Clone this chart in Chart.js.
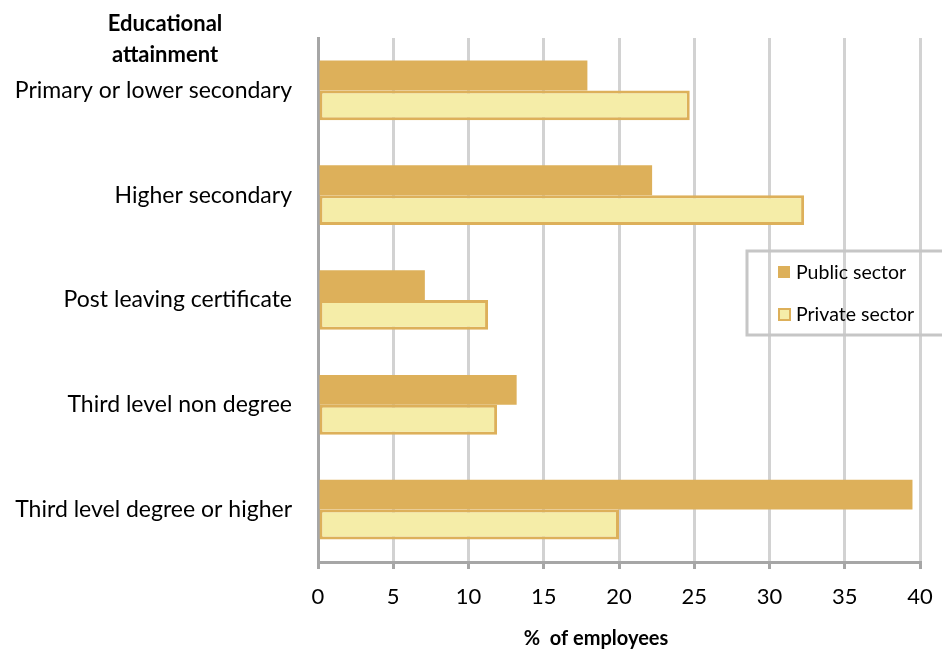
<!DOCTYPE html>
<html>
<head>
<meta charset="utf-8">
<script src="https://cdn.jsdelivr.net/npm/chart.js@4"></script>
<style>
  body { margin: 0; background: #fff; }
  #wrap { width: 942px; height: 652px; }
</style>
</head>
<body>
<div id="wrap"><canvas id="edChart"></canvas></div>
<script>
const categories = ["Primary or lower secondary", "Higher secondary", "Post leaving certificate", "Third level non degree", "Third level degree or higher"];
const publicSector = [17.9, 22.2, 7.1, 13.2, 39.5];
const privateSector = [24.7, 32.3, 11.3, 11.9, 20.0];
const xTicks = [0, 5, 10, 15, 20, 25, 30, 35, 40];

const gold = '#ddb05a';
const pale = '#f5eda8';
const fontName = 'Lato, "Open Sans", sans-serif';

// draws axis captions and the boxed legend
const extras = {
    id: 'extras',
    afterDraw(chart) {
        const ctx = chart.ctx;
        ctx.save();
        ctx.fillStyle = '#000';
        ctx.textAlign = 'center';
        ctx.textBaseline = 'middle';
        ctx.font = 'bold 22px ' + fontName;
        ctx.fillText('Educational', 165, 24);
        ctx.fillText('attainment', 165, 55);
        ctx.font = 'bold 20px ' + fontName;
        ctx.fillText('%  of employees', 596, 639);

        // legend
        ctx.strokeStyle = '#c6c6c6';
        ctx.lineWidth = 3;
        ctx.strokeRect(747, 251, 200, 84);
        ctx.textAlign = 'left';
        ctx.font = '19.5px ' + fontName;
        const ds = chart.data.datasets;
        ctx.fillStyle = ds[0].backgroundColor;
        ctx.fillRect(778, 266, 12, 12);
        ctx.fillStyle = '#000';
        ctx.fillText(ds[0].label, 796, 273);
        ctx.fillStyle = ds[1].backgroundColor;
        ctx.fillRect(779, 309, 11, 11);
        ctx.strokeStyle = ds[1].borderColor;
        ctx.lineWidth = 2;
        ctx.strokeRect(779, 309, 11, 11);
        ctx.fillStyle = '#000';
        ctx.fillText(ds[1].label, 796, 315);
        ctx.restore();
    }
};

const ctx = document.getElementById('edChart').getContext('2d');
const myChart = new Chart(ctx, {
    type: 'bar',
    data: {
        labels: categories,
        datasets: [{
            label: 'Public sector',
            data: publicSector,
            backgroundColor: gold,
            borderColor: gold,
            borderWidth: 0,
            categoryPercentage: 0.57,
            barPercentage: 1.0
        }, {
            label: 'Private sector',
            data: privateSector,
            backgroundColor: pale,
            borderColor: gold,
            borderWidth: 3,
            borderSkipped: false,
            categoryPercentage: 0.57,
            barPercentage: 1.0
        }]
    },
    options: {
        indexAxis: 'y',
        responsive: true,
        maintainAspectRatio: false,
        animation: false,
        layout: { padding: { top: 38, right: 22, left: 0, bottom: 0 } },
        plugins: {
            legend: { display: false },
            tooltip: { enabled: false }
        },
        scales: {
            x: {
                min: 0,
                max: 40,
                afterBuildTicks: (scale) => { scale.ticks = xTicks.map(v => ({ value: v })); },
                afterFit: (scale) => {
                    scale.height = 90;
                    scale.paddingLeft = 0;
                    scale.paddingRight = 0;
                },
                grid: {
                    color: '#d2d2d2',
                    lineWidth: 3,
                    tickColor: '#a6a6a6',
                    tickLength: 7
                },
                border: { display: true, color: '#a6a6a6', width: 3 },
                ticks: {
                    color: '#000',
                    padding: 15,
                    font: { family: fontName, size: 22 }
                }
            },
            y: {
                afterFit: (scale) => { scale.width = 318; },
                grid: { display: false },
                border: { display: true, color: '#a6a6a6', width: 3 },
                ticks: {
                    color: '#000',
                    padding: 18,
                    font: { family: fontName, size: 23 }
                }
            }
        }
    },
    plugins: [extras]
});
</script>
</body>
</html>
